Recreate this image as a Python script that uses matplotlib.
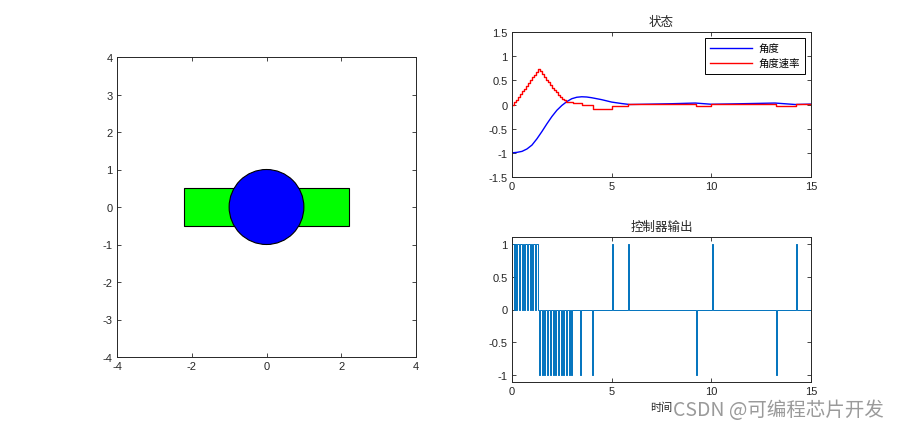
import numpy as np
import matplotlib
matplotlib.use("Agg")
import matplotlib.pyplot as plt
from matplotlib.patches import Rectangle, Circle

plt.rcParams['font.family'] = ['Liberation Sans', 'Noto Sans CJK SC', 'DejaVu Sans']
plt.rcParams['axes.unicode_minus'] = False

# left panel: cart (rectangle) and wheel (circle)
rect_x = [-2.2, 2.2]
rect_y = [-0.5, 0.5]
circle_center = [0.0, 0.0]
circle_radius = 1.0

# state curves
angle_t = [0, 0.25, 0.5, 0.75, 1.0, 1.25, 1.5, 1.75, 2.0, 2.25, 2.5, 2.75, 3.0, 3.25,
           3.5, 3.75, 4.0, 4.5, 5.0, 5.5, 5.9, 7.0, 8.0, 9.2, 10.0, 11.0, 12.0, 13.2,
           14.2, 15.0]
angle_v = [-1.0, -0.99, -0.97, -0.92, -0.84, -0.71, -0.56, -0.4, -0.25, -0.12, -0.02,
           0.06, 0.12, 0.15, 0.16, 0.155, 0.14, 0.1, 0.05, 0.02, 0.0, 0.008, 0.016,
           0.03, 0.005, 0.012, 0.02, 0.03, 0.0, 0.008]

rate_t = [0.0, 0.1, 0.2, 0.3, 0.4, 0.5, 0.6, 0.7, 0.8, 0.9, 1.0, 1.1, 1.2, 1.3,
          1.4, 1.5, 1.6, 1.7, 1.8, 1.9, 2.0, 2.1, 2.2, 2.3, 2.4, 2.5, 2.6, 2.7, 2.8,
          3.05, 3.5, 4.05, 5.03, 5.8, 9.25, 10.0, 13.25, 14.25, 15.0]
rate_v = [0.0, 0.05, 0.10, 0.16, 0.21, 0.27, 0.33, 0.39, 0.45, 0.51, 0.57, 0.62, 0.68,
          0.73, 0.69, 0.63, 0.57, 0.51, 0.46, 0.40, 0.35, 0.30, 0.25, 0.20, 0.16, 0.12,
          0.09, 0.06, 0.05, 0.03, -0.02, -0.09, -0.03, 0.01, -0.03, 0.01, -0.03, 0.01, 0.01]

# controller output: pulse start times, widths and levels
pulse_start = [0.0, 0.13, 0.27, 0.40, 0.54, 0.67, 0.80, 0.94, 1.07, 1.20,
               1.36, 1.50, 1.63, 1.77, 1.90, 2.04, 2.17, 2.31, 2.44, 2.58, 2.71, 2.85, 2.98,
               3.39, 4.01, 5.01, 5.80, 9.23, 10.01, 13.23, 14.25]
pulse_width = [0.08, 0.08, 0.08, 0.08, 0.08, 0.08, 0.08, 0.08, 0.08, 0.10,
               0.05, 0.05, 0.05, 0.05, 0.05, 0.05, 0.05, 0.05, 0.05, 0.05, 0.05, 0.05, 0.05,
               0.05, 0.03, 0.05, 0.05, 0.05, 0.05, 0.05, 0.05]
pulse_level = [1, 1, 1, 1, 1, 1, 1, 1, 1, 1,
               -1, -1, -1, -1, -1, -1, -1, -1, -1, -1, -1, -1, -1,
               -1, -1, 1, 1, -1, 1, -1, 1]

u_t, u_v = [0.0], [0.0]
for s, w, lv in zip(pulse_start, pulse_width, pulse_level):
    u_t += [s, s, s + w, s + w]
    u_v += [0, lv, lv, 0]
u_t.append(15.0)
u_v.append(0.0)

cjk = ['Noto Sans CJK SC', 'DejaVu Sans']
axcol = '#262626'

fig = plt.figure(figsize=(8.97, 4.31), dpi=100)


def style(ax):
    ax.tick_params(direction='in', top=True, right=True, length=3, width=0.6,
                   labelsize=8, colors=axcol, pad=3)
    for sp in ax.spines.values():
        sp.set_color(axcol)
        sp.set_linewidth(0.7)


# left panel
ax1 = fig.add_axes([117/897, 73/431, 299/897, 300/431])
ax1.add_patch(Rectangle((rect_x[0], rect_y[0]), rect_x[1]-rect_x[0], rect_y[1]-rect_y[0],
                        facecolor=(0, 1, 0), edgecolor='black', linewidth=0.8))
ax1.add_patch(Circle(circle_center, circle_radius, facecolor=(0, 0, 1),
                     edgecolor='black', linewidth=0.8))
ax1.set_xlim(-4, 4)
ax1.set_ylim(-4, 4)
ax1.set_xticks([-4, -2, 0, 2, 4])
ax1.set_yticks(np.arange(-4, 5, 1))
style(ax1)

# state panel
ax2 = fig.add_axes([512/897, 253/431, 299/897, 145/431])
ax2.plot(angle_t, angle_v, color=(0, 0, 1), lw=1.0, label='角度')
ax2.plot(rate_t, rate_v, color=(1, 0, 0), lw=1.0, drawstyle='steps-post', label='角度速率')
ax2.set_xlim(0, 15)
ax2.set_ylim(-1.5, 1.5)
ax2.set_xticks([0, 5, 10, 15])
ax2.set_yticks([-1.5, -1, -0.5, 0, 0.5, 1, 1.5])
ax2.set_yticklabels(['-1.5', '-1', '-0.5', '0', '0.5', '1', '1.5'])
ax2.set_title('状态', fontsize=9, family=cjk, pad=5, color=axcol)
leg = ax2.legend(loc='upper right', prop={'family': cjk, 'size': 7.5}, fancybox=False,
                 edgecolor='black', framealpha=1, handlelength=4.0, borderaxespad=0.6,
                 borderpad=0.5, labelspacing=0.45, handletextpad=0.6)
leg.get_frame().set_linewidth(0.7)
style(ax2)

# controller output panel
ax3 = fig.add_axes([512/897, 48/431, 299/897, 145/431])
ax3.plot(u_t, u_v, color='#0072BD', lw=0.7)
ax3.set_xlim(0, 15)
ax3.set_ylim(-1.1, 1.1)
ax3.set_xticks([0, 5, 10, 15])
ax3.set_yticks([-1, -0.5, 0, 0.5, 1])
ax3.set_yticklabels(['-1', '-0.5', '0', '0.5', '1'])
ax3.set_title('控制器输出', fontsize=9, family=cjk, pad=5, color=axcol)
ax3.set_xlabel('时间', fontsize=8, family=cjk, labelpad=4, color=axcol)
style(ax3)

fig.text(884/897, 20/431, 'CSDN @可编程芯片开发', ha='right', va='center',
         fontsize=14, family=cjk, color='#9a9a9a')

fig.savefig('out.png', dpi=100)
